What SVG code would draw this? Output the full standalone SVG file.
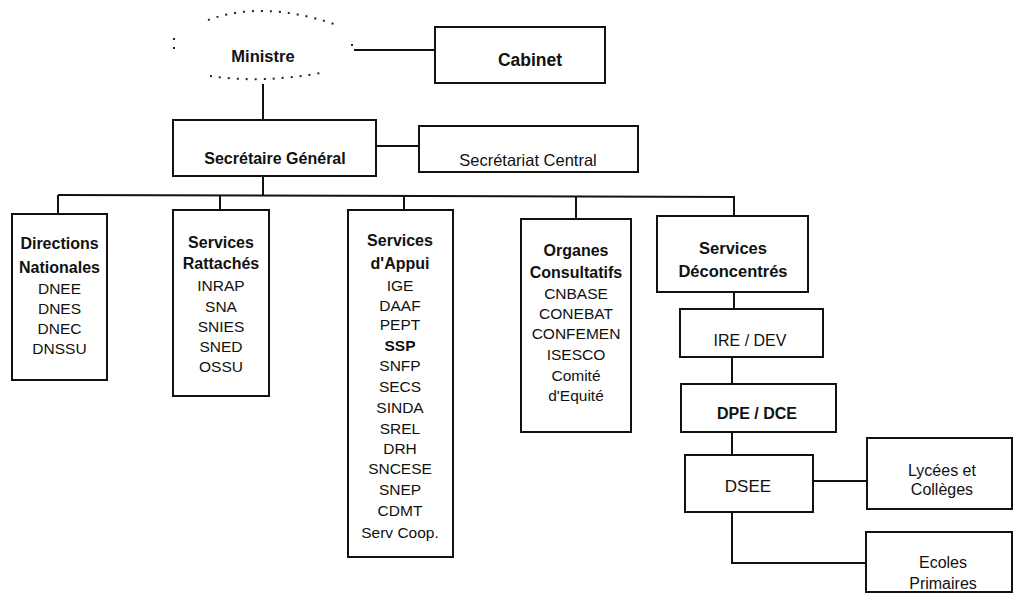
<svg xmlns="http://www.w3.org/2000/svg" width="1014" height="594" viewBox="0 0 1014 594">
<style>
.box{fill:#fff;stroke:#111;stroke-width:2}
.ln{fill:none;stroke:#111;stroke-width:2}
.dot{fill:none;stroke:#222;stroke-width:2;stroke-dasharray:2 7}
text{font-family:"Liberation Sans",Arial,sans-serif;fill:#111;text-anchor:middle}
.b{font-weight:bold;font-size:16px}
.r{font-size:15.5px}
</style>
<rect width="1014" height="594" fill="#fff"/>
<g id="connectors">
<line class="ln" x1="354" y1="50" x2="435" y2="50"/>
<line class="ln" x1="263" y1="84" x2="263" y2="120"/>
<line class="ln" x1="376" y1="146" x2="419" y2="146"/>
<line class="ln" x1="263" y1="176" x2="263" y2="196"/>
<line class="ln" x1="58" y1="195" x2="735" y2="197"/>
<line class="ln" x1="58" y1="195" x2="58" y2="214"/>
<line class="ln" x1="220" y1="195" x2="220" y2="210"/>
<line class="ln" x1="404" y1="196" x2="404" y2="210"/>
<line class="ln" x1="576" y1="196" x2="576" y2="219"/>
<line class="ln" x1="734" y1="197" x2="734" y2="216"/>
<line class="ln" x1="734" y1="292" x2="734" y2="309"/>
<line class="ln" x1="732" y1="357" x2="732" y2="384"/>
<line class="ln" x1="732" y1="432" x2="732" y2="455"/>
<line class="ln" x1="813" y1="481" x2="867" y2="481"/>
<polyline class="ln" points="732,512 732,563 866,563"/>
</g>
<g id="ministre">
<path class="dot" d="M 208 20 Q 262 0 334 24"/>
<path class="dot" d="M 210 76 Q 262 84 326 72"/>
<path class="dot" d="M 174 38 L 174 50"/>
<path class="dot" d="M 352 44 L 352 52"/>
<text x="263" y="62" style="font-weight:bold;font-size:16.5px">Ministre</text>
</g>
<g id="cabinet">
<rect class="box" x="435" y="27" width="170" height="56"/>
<text x="530" y="66" style="font-weight:bold;font-size:17.5px">Cabinet</text>
</g>
<g id="sg">
<rect class="box" x="173" y="120" width="203" height="56"/>
<text x="275" y="164" style="font-weight:bold;font-size:16px">Secrétaire Général</text>
</g>
<g id="sc">
<rect class="box" x="419" y="126" width="219" height="46"/>
<text x="528" y="166" style="font-size:16.5px">Secrétariat Central</text>
</g>
<g id="dn">
<rect class="box" x="12" y="214" width="95" height="166"/>
<text class="b" x="59.5" y="249">Directions</text>
<text class="b" x="59.5" y="273">Nationales</text>
<text class="r" x="59.5" y="294">DNEE</text>
<text class="r" x="59.5" y="314">DNES</text>
<text class="r" x="59.5" y="334">DNEC</text>
<text class="r" x="59.5" y="354">DNSSU</text>
</g>
<g id="sr">
<rect class="box" x="173" y="210" width="96" height="186"/>
<text class="b" x="221" y="248">Services</text>
<text class="b" x="221" y="269">Rattachés</text>
<text class="r" x="221" y="291">INRAP</text>
<text class="r" x="221" y="312">SNA</text>
<text class="r" x="221" y="332">SNIES</text>
<text class="r" x="221" y="352">SNED</text>
<text class="r" x="221" y="372">OSSU</text>
</g>
<g id="sa">
<rect class="box" x="348" y="210" width="105" height="347"/>
<text class="b" x="400" y="246">Services</text>
<text class="b" x="400" y="269">d'Appui</text>
<text class="r" x="400" y="291">IGE</text>
<text class="r" x="400" y="311">DAAF</text>
<text class="r" x="400" y="330">PEPT</text>
<text class="r" x="400" y="351" style="font-weight:bold">SSP</text>
<text class="r" x="400" y="371">SNFP</text>
<text class="r" x="400" y="392">SECS</text>
<text class="r" x="400" y="413">SINDA</text>
<text class="r" x="400" y="434">SREL</text>
<text class="r" x="400" y="454">DRH</text>
<text class="r" x="400" y="474">SNCESE</text>
<text class="r" x="400" y="495">SNEP</text>
<text class="r" x="400" y="516">CDMT</text>
<text class="r" x="400" y="538">Serv Coop.</text>
</g>
<g id="oc">
<rect class="box" x="521" y="219" width="110" height="213"/>
<text class="b" x="576" y="256">Organes</text>
<text class="b" x="576" y="278">Consultatifs</text>
<text class="r" x="576" y="299">CNBASE</text>
<text class="r" x="576" y="319">CONEBAT</text>
<text class="r" x="576" y="339">CONFEMEN</text>
<text class="r" x="576" y="360">ISESCO</text>
<text class="r" x="576" y="381">Comité</text>
<text class="r" x="576" y="401">d'Equité</text>
</g>
<g id="sd">
<rect class="box" x="657" y="216" width="151" height="76"/>
<text x="733" y="254" style="font-weight:bold;font-size:16.5px">Services</text>
<text x="733" y="277" style="font-weight:bold;font-size:16.5px">Déconcentrés</text>
</g>
<g id="ire">
<rect class="box" x="680" y="309" width="143" height="48"/>
<text x="750" y="346" style="font-size:16px">IRE / DEV</text>
</g>
<g id="dpe">
<rect class="box" x="681" y="384" width="155" height="48"/>
<text x="757" y="419" style="font-weight:bold;font-size:16px">DPE / DCE</text>
</g>
<g id="dsee">
<rect class="box" x="685" y="455" width="128" height="57"/>
<text x="748" y="492" style="font-size:17px">DSEE</text>
</g>
<g id="lycees">
<rect class="box" x="867" y="438" width="145" height="71"/>
<text x="942" y="476" style="font-size:16px">Lycées et</text>
<text x="942" y="495" style="font-size:16px">Collèges</text>
</g>
<g id="ecoles">
<rect class="box" x="866" y="532" width="146" height="60"/>
<text x="943" y="568" style="font-size:16px">Ecoles</text>
<text x="943" y="589" style="font-size:16px">Primaires</text>
</g>
</svg>
